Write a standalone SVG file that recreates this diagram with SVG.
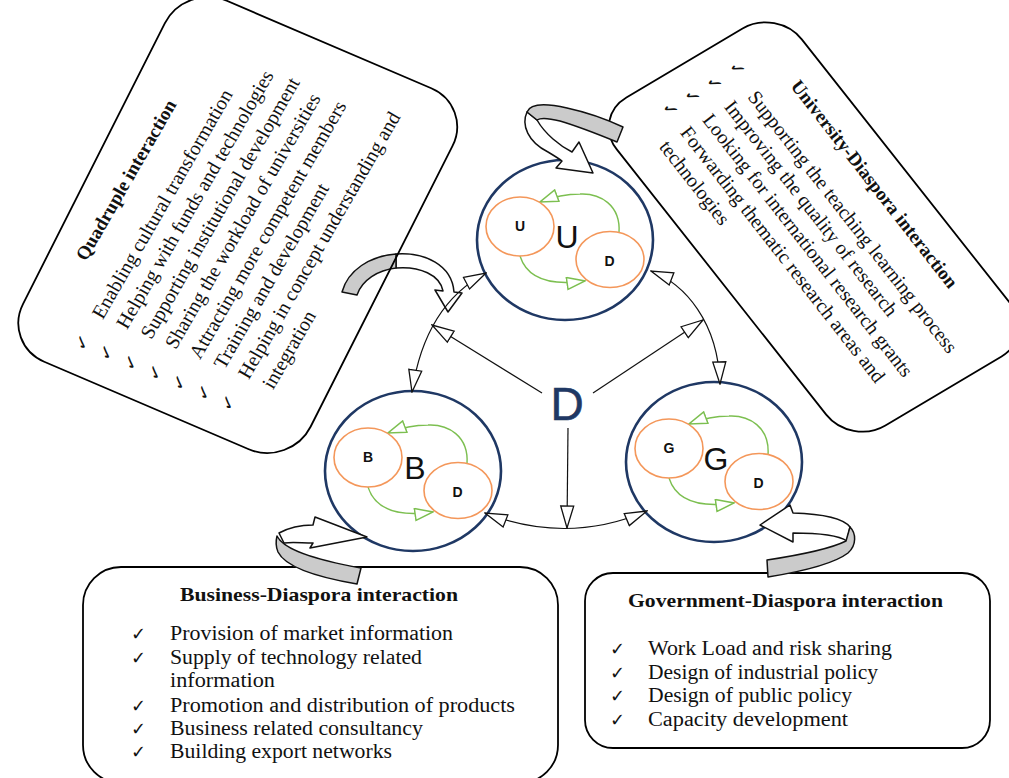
<svg xmlns="http://www.w3.org/2000/svg" width="1009" height="778" viewBox="0 0 1009 778">
<style>
.box{fill:none;stroke:#000;stroke-width:1.8}
.rbox{fill:none;stroke:#000;stroke-width:1.8;vector-effect:non-scaling-stroke}
.txt{font-family:"Liberation Serif",serif;font-size:20px;fill:#111}
.hd{font-family:"Liberation Serif",serif;font-size:19px;font-weight:bold;fill:#111}
.chk{font-family:"DejaVu Sans",sans-serif;font-size:18px;fill:#111}
.outer{fill:none;stroke:#1F3864;stroke-width:2.6}
.inner{fill:none;stroke:#F4975A;stroke-width:1.6}
.garc{fill:none;stroke:#7CBF50;stroke-width:1.4}
.big{font-family:"Liberation Sans",sans-serif;font-size:32px;fill:#111;text-anchor:middle}
.lbl{font-family:"Liberation Sans",sans-serif;font-size:14px;font-weight:bold;fill:#111;text-anchor:middle}
.conn{fill:none;stroke:#111;stroke-width:1.2}
.gray{fill:#CBCBCB;stroke:#111;stroke-width:1.5;stroke-linejoin:round}
.wh{fill:#fff;stroke:#111;stroke-width:1.5;stroke-linejoin:round}
</style>
<defs>
<marker id="gtri" viewBox="0 0 20 14" refX="19" refY="7" markerWidth="20" markerHeight="14" markerUnits="userSpaceOnUse" orient="auto">
<path d="M1 1 L19 7 L1 13 Z" fill="#fff" stroke="#7CBF50" stroke-width="1.5"/>
</marker>
<marker id="btri" viewBox="0 0 24 16" refX="23" refY="8" markerWidth="24" markerHeight="16" markerUnits="userSpaceOnUse" orient="auto-start-reverse">
<path d="M1 1.5 L23 8 L1 14.5 Z" fill="#fff" stroke="#111" stroke-width="1.3"/>
</marker>
</defs>
<rect width="1009" height="778" fill="#fff"/>

<g id="curl-left">
<path class="wh" d="M 396 254 C 425 252, 452 265, 454 292 L 462 293 L 448 312 L 435 290 L 443 291 C 440 275, 420 266, 396 268 Z"/>
<path class="gray" d="M 342 292 C 348 270, 370 256, 396 254 L 396 268 C 378 270, 362 280, 357 295 Z"/>
</g>

<g id="box-quadruple">
<rect class="rbox" x="0" y="0" width="404" height="312" rx="45" transform="matrix(0.4517 -0.8936 0.9215 0.3942 2.75 344)"/>
<g transform="rotate(-60)">
<text class="hd" x="-184" y="205.5">Quadruple interaction</text>
<text class="txt" x="-226" y="249">Enabling cultural transformation</text>
<text class="txt" x="-222.5" y="275.1">Helping with funds and technologies</text>
<text class="txt" x="-219" y="301.2">Supporting institutional development</text>
<text class="txt" x="-215.5" y="327.3">Sharing the workload of universities</text>
<text class="txt" x="-212" y="353.4">Attracting more competent members</text>
<text class="txt" x="-208.5" y="379.5">Training and development</text>
<text class="txt" x="-205" y="405.6">Helping in concept understanding and</text>
<text class="txt" x="-201.5" y="431.7">integration</text>
<text class="chk" x="-263" y="248.5">✓</text>
<text class="chk" x="-259.5" y="274.6">✓</text>
<text class="chk" x="-256" y="300.7">✓</text>
<text class="chk" x="-252.5" y="326.8">✓</text>
<text class="chk" x="-249" y="352.9">✓</text>
<text class="chk" x="-245.5" y="379">✓</text>
<text class="chk" x="-242" y="405.1">✓</text>
</g>
</g>

<g id="box-university">
<rect class="rbox" x="0" y="0" width="418" height="215" rx="40" transform="matrix(0.6196 0.7847 -0.8605 0.5116 777 8)"/>
<g transform="rotate(52)">
<text class="hd" x="554.4" y="-569.5">University-Diaspora interaction</text>
<text class="txt" x="536.6" y="-528.8">Supporting the teaching learning process</text>
<text class="txt" x="529.7" y="-504.3">Improving the quality of research</text>
<text class="txt" x="526.8" y="-479">Looking for international research grants</text>
<text class="txt" x="523" y="-453.6">Forwarding thematic research areas and</text>
<text class="txt" x="521.1" y="-428.4">technologies</text>
<text class="chk" x="500.6" y="-532.9">✓</text>
<text class="chk" x="498.2" y="-505.5">✓</text>
<text class="chk" x="494.9" y="-480.2">✓</text>
<text class="chk" x="491.6" y="-454.9">✓</text>
</g>
</g>

<g id="box-business">
<rect class="box" x="83" y="567" width="475" height="216" rx="38"/>
<text class="hd" x="180" y="601" textLength="278" lengthAdjust="spacingAndGlyphs">Business-Diaspora interaction</text>
<text class="chk" x="131" y="640">✓</text>
<text class="chk" x="131" y="664">✓</text>
<text class="chk" x="131" y="712">✓</text>
<text class="chk" x="131" y="735">✓</text>
<text class="chk" x="131" y="758">✓</text>
<text class="txt" x="170" y="640" textLength="283" lengthAdjust="spacingAndGlyphs">Provision of market information</text>
<text class="txt" x="170" y="664" textLength="252" lengthAdjust="spacingAndGlyphs">Supply of technology related</text>
<text class="txt" x="170" y="687" textLength="105" lengthAdjust="spacingAndGlyphs">information</text>
<text class="txt" x="170" y="712" textLength="345" lengthAdjust="spacingAndGlyphs">Promotion and distribution of products</text>
<text class="txt" x="170" y="735" textLength="253" lengthAdjust="spacingAndGlyphs">Business related consultancy</text>
<text class="txt" x="170" y="758" textLength="222" lengthAdjust="spacingAndGlyphs">Building export networks</text>
</g>

<g id="box-government">
<rect class="box" x="585" y="573" width="405" height="175" rx="28"/>
<text class="hd" x="628" y="607" textLength="315" lengthAdjust="spacingAndGlyphs">Government-Diaspora interaction</text>
<text class="chk" x="610" y="655">✓</text>
<text class="chk" x="610" y="679">✓</text>
<text class="chk" x="610" y="702">✓</text>
<text class="chk" x="610" y="726">✓</text>
<text class="txt" x="648" y="655" textLength="244" lengthAdjust="spacingAndGlyphs">Work Load and risk sharing</text>
<text class="txt" x="648" y="679" textLength="230" lengthAdjust="spacingAndGlyphs">Design of industrial policy</text>
<text class="txt" x="648" y="702" textLength="204" lengthAdjust="spacingAndGlyphs">Design of public policy</text>
<text class="txt" x="648" y="726" textLength="200" lengthAdjust="spacingAndGlyphs">Capacity development</text>
</g>

<g id="node-U" transform="translate(565,240)">
<ellipse class="outer" rx="88" ry="80"/>
<path class="garc" d="M 54 -7 C 56 -35, 35 -47, 15 -46 C 0 -46, -12 -43, -25 -38" marker-end="url(#gtri)"/>
<path class="garc" d="M -45 16 C -38 38, -15 46, 20 41" marker-end="url(#gtri)"/>
<ellipse class="inner" cx="-45" cy="-13.5" rx="34" ry="29.5"/>
<ellipse class="inner" cx="45" cy="19.5" rx="34" ry="28"/>
<text class="big" x="2" y="8">U</text>
<text class="lbl" x="-45" y="-9">U</text>
<text class="lbl" x="44.5" y="26">D</text>
</g>

<g id="node-B" transform="translate(413,471)">
<ellipse class="outer" rx="88" ry="80"/>
<path class="garc" d="M 54 -7 C 56 -35, 35 -47, 15 -46 C 0 -46, -12 -43, -25 -38" marker-end="url(#gtri)"/>
<path class="garc" d="M -45 16 C -38 38, -15 46, 20 41" marker-end="url(#gtri)"/>
<ellipse class="inner" cx="-45" cy="-13.5" rx="34" ry="29.5"/>
<ellipse class="inner" cx="45" cy="19.5" rx="34" ry="28"/>
<text class="big" x="2" y="8">B</text>
<text class="lbl" x="-45" y="-9">B</text>
<text class="lbl" x="44.5" y="26">D</text>
</g>

<g id="node-G" transform="translate(714,462)">
<ellipse class="outer" rx="88" ry="80"/>
<path class="garc" d="M 54 -7 C 56 -35, 35 -47, 15 -46 C 0 -46, -12 -43, -25 -38" marker-end="url(#gtri)"/>
<path class="garc" d="M -45 16 C -38 38, -15 46, 20 41" marker-end="url(#gtri)"/>
<ellipse class="inner" cx="-45" cy="-13.5" rx="34" ry="29.5"/>
<ellipse class="inner" cx="45" cy="19.5" rx="34" ry="28"/>
<text class="big" x="2" y="8">G</text>
<text class="lbl" x="-45" y="-9">G</text>
<text class="lbl" x="44.5" y="26">D</text>
</g>

<g id="node-D">
<text x="567" y="420" font-family="Liberation Sans, sans-serif" font-size="46" fill="#1F3864" text-anchor="middle" stroke="#1F3864" stroke-width="0.6">D</text>
</g>

<g id="connectors">
<path class="conn" d="M 542 393 L 432 325" marker-end="url(#btri)"/>
<path class="conn" d="M 593 393 L 703 320" marker-end="url(#btri)"/>
<path class="conn" d="M 568 428 L 567 528" marker-end="url(#btri)"/>
<path class="conn" d="M 486 273 Q 425 305 412 392" marker-start="url(#btri)" marker-end="url(#btri)"/>
<path class="conn" d="M 651 271 C 685 284, 718 322, 720 384" marker-start="url(#btri)" marker-end="url(#btri)"/>
<path class="conn" d="M 485 513 Q 567 545 647 511" marker-start="url(#btri)" marker-end="url(#btri)"/>
</g>

<g id="curl-top">
<path class="wh" d="M 527 112 C 521 125, 528 142, 548 152 C 553 155, 558 158, 562 161 L 556 168 L 593 173 L 579 142 L 572 152 C 560 146, 545 134, 537 120 Z"/>
<path class="gray" d="M 527 112 C 530 104, 545 103, 567 108 C 590 113, 608 120, 623 127 L 617 142 C 600 135, 580 127, 560 121 C 548 118, 540 118, 537 120 Z"/>
</g>
<g id="curl-business">
<path class="wh" d="M 279 533 C 290 527, 300 525, 313 525 L 315 517 L 367 537 L 310 548 L 313 543 C 302 543, 292 542, 284 543 Z"/>
<path class="gray" d="M 277 536 C 282 546, 300 557, 361 568 L 357 584 C 310 576, 285 566, 278 552 C 275 545, 276 540, 277 536 Z"/>
</g>
<g id="curl-government">
<path class="wh" d="M 850 527 C 843 518, 825 514, 793 513 L 790 505 L 760 525 L 793 542 L 793 533 C 820 533, 838 535, 847 541 Z"/>
<path class="gray" d="M 850 527 C 856 533, 857 545, 848 553 C 835 563, 805 571, 768 577 L 767 560 C 800 555, 832 548, 846 541 Z"/>
</g>
</svg>
